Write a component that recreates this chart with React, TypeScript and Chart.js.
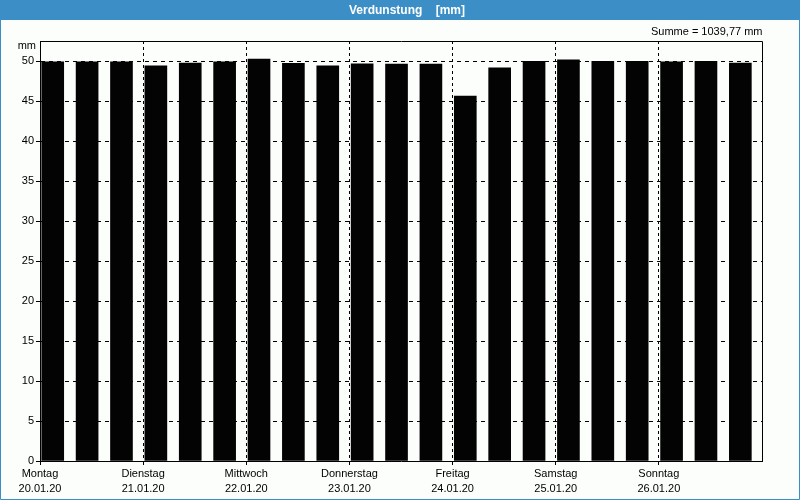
import React, { useEffect, useRef } from "react";
import { Chart, registerables } from "chart.js";

Chart.register(...registerables);

const TITLE = "Verdunstung    [mm]";
const SUM_TEXT = "Summe = 1039,77 mm";
const UNIT = "mm";

const DAYS = ["Montag", "Dienstag", "Mittwoch", "Donnerstag", "Freitag", "Samstag", "Sonntag"];
const DATES = ["20.01.20", "21.01.20", "22.01.20", "23.01.20", "24.01.20", "25.01.20", "26.01.20"];
const PERIODS_PER_DAY = 3;

const VALUES = [
  49.9, 49.9, 49.9,
  49.4, 49.75, 49.9,
  50.25, 49.7, 49.4,
  49.65, 49.6, 49.6,
  45.6, 49.15, 49.95,
  50.15, 49.95, 49.95,
  49.9, 49.95, 49.75,
];

const Y_MIN = 0;
const Y_MAX = 52.5;
const Y_STEP = 5;
const Y_LAST_TICK = 50;

const BAR_POS = 0.37; // bar centre within its period slot

const FONT = "'Liberation Sans', Arial, sans-serif";
const BLUE = "#3b8fc6";
const BG = "#fcfefc";

const decor = {
  id: "decor",
  beforeDraw(chart: any) {
    const { ctx, width } = chart;
    ctx.save();
    ctx.fillStyle = BG;
    ctx.fillRect(0, 0, width, chart.height);
    ctx.fillStyle = BLUE;
    ctx.fillRect(0, 0, width, 20);
    ctx.fillStyle = "#ffffff";
    ctx.font = `bold 12px ${FONT}`;
    ctx.textAlign = "center";
    ctx.textBaseline = "middle";
    ctx.fillText(TITLE, 407, 10.5);
    ctx.restore();
  },
  afterDraw(chart: any) {
    const { ctx, width, height, chartArea } = chart;
    ctx.save();
    ctx.strokeStyle = "#000";
    ctx.lineWidth = 1;
    ctx.beginPath();
    const t = Math.round(chartArea.top) + 0.5;
    const r = Math.round(chartArea.right) + 0.5;
    ctx.moveTo(Math.round(chartArea.left) + 0.5, t);
    ctx.lineTo(r, t);
    ctx.lineTo(r, Math.round(chartArea.bottom) + 0.5);
    ctx.stroke();

    ctx.fillStyle = "#000";
    ctx.font = `11px ${FONT}`;
    ctx.textBaseline = "middle";
    ctx.textAlign = "right";
    ctx.fillText(SUM_TEXT, r, 32);
    ctx.fillText(UNIT, 36, 46);

    ctx.strokeStyle = BLUE;
    ctx.beginPath();
    ctx.moveTo(0.5, 20);
    ctx.lineTo(0.5, height - 0.5);
    ctx.lineTo(width - 0.5, height - 0.5);
    ctx.lineTo(width - 0.5, 20);
    ctx.stroke();
    ctx.restore();
  },
};

export default function App() {
  const ref = useRef<HTMLCanvasElement>(null);

  useEffect(() => {
    if (!ref.current) return;
    const nSlots = VALUES.length;
    const chart = new Chart(ref.current, {
      type: "bar",
      data: {
        datasets: [
          {
            data: VALUES.map((v, i) => ({ x: i + BAR_POS, y: v })),
            backgroundColor: "#030303",
            borderWidth: 0,
            barThickness: 22,
          },
        ],
      },
      options: {
        responsive: false,
        animation: false,
        devicePixelRatio: 1,
        layout: { padding: { left: 0, right: 38, top: 41, bottom: 0 } },
        plugins: {
          legend: { display: false },
          tooltip: { enabled: false },
          title: { display: false },
        },
        scales: {
          x: {
            type: "linear",
            min: 0,
            max: nSlots,
            offset: false,
            afterFit: (s: any) => {
              s.height = 39;
            },
            grid: {
              offset: false,
              color: (c: any) => (c.tick && (c.tick.value === 0 || c.tick.value === nSlots) ? "rgba(0,0,0,0)" : "#000"),
              tickColor: (c: any) => (c.tick && c.tick.value === nSlots ? "rgba(0,0,0,0)" : "#000"),
              lineWidth: 1,
              tickLength: 4,
              tickBorderDash: [],
            },
            border: { display: true, color: "#000", width: 1, dash: [3, 3] },
            ticks: {
              stepSize: PERIODS_PER_DAY,
              autoSkip: false,
              maxRotation: 0,
              padding: 2,
              color: "#000",
              font: { family: FONT, size: 11, lineHeight: 1.35 },
              callback: (value: any) => {
                const d = Math.round(Number(value) / PERIODS_PER_DAY);
                if (d < DAYS.length && Number(value) % PERIODS_PER_DAY === 0) return [DAYS[d], DATES[d]];
                return "";
              },
            },
          },
          y: {
            type: "linear",
            min: Y_MIN,
            max: Y_MAX,
            afterFit: (s: any) => {
              s.width = 40;
            },
            afterBuildTicks: (s: any) => {
              s.ticks = s.ticks.filter((t: any) => t.value <= Y_LAST_TICK);
            },
            grid: {
              color: (c: any) => (c.tick && c.tick.value === 0 ? "rgba(0,0,0,0)" : "#000"),
              tickColor: "#000",
              lineWidth: 1,
              tickLength: 4,
            },
            border: { display: true, color: "#000", width: 1, dash: [4, 4] },
            ticks: {
              stepSize: Y_STEP,
              padding: 2,
              color: "#000",
              font: { family: FONT, size: 11 },
            },
          },
        },
      },
      plugins: [decor],
    });
    return () => chart.destroy();
  }, []);

  return (
    <div style={{ position: "absolute", left: 0, top: 0, width: 800, height: 500 }}>
      <canvas ref={ref} width={800} height={500} style={{ display: "block" }} />
    </div>
  );
}
